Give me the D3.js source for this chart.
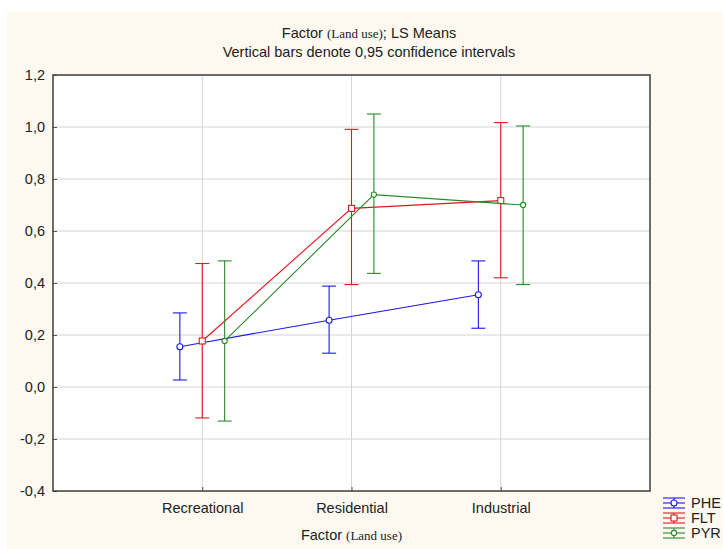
<!DOCTYPE html>
<html><head><meta charset="utf-8">
<script src="https://cdn.jsdelivr.net/npm/d3@7"></script>
<style>html,body{margin:0;padding:0;background:#fff;}svg{display:block;}</style>
</head><body>
<script>
const categories = ["Recreational", "Residential", "Industrial"];
const seriesNames = ["PHE", "FLT", "PYR"];
const pheMean = [0.155, 0.257, 0.355];
const pheLow  = [0.027, 0.130, 0.226];
const pheHigh = [0.285, 0.388, 0.485];
const fltMean = [0.177, 0.687, 0.717];
const fltLow  = [-0.119, 0.394, 0.420];
const fltHigh = [0.475, 0.991, 1.017];
const pyrMean = [0.177, 0.740, 0.700];
const pyrLow  = [-0.131, 0.437, 0.394];
const pyrHigh = [0.485, 1.050, 1.004];
const yTicks = [-0.4, -0.2, 0.0, 0.2, 0.4, 0.6, 0.8, 1.0, 1.2];

const W = 723, H = 549;
const L = 53, R = 650, T = 75, B = 491;
const colors = {PHE: "#1a1ae6", FLT: "#e8141e", PYR: "#2a8a2a"};
const offsets = {PHE: -0.15, FLT: 0, PYR: 0.15};

const series = [
  {name: "PHE", mean: pheMean, low: pheLow, high: pheHigh, marker: "circle"},
  {name: "FLT", mean: fltMean, low: fltLow, high: fltHigh, marker: "square"},
  {name: "PYR", mean: pyrMean, low: pyrLow, high: pyrHigh, marker: "dot"}
];

const svg = d3.select("body").append("svg").attr("width", W).attr("height", H);
svg.append("rect").attr("x", 0).attr("y", 0).attr("width", W).attr("height", H).attr("fill", "#ffffff");
svg.append("rect").attr("x", 7).attr("y", 12).attr("width", W - 7).attr("height", H - 12).attr("fill", "#fdf9f1");

const x = d3.scaleLinear().domain([0, 4]).range([L, R]);
const y = d3.scaleLinear().domain([-0.4, 1.2]).range([B, T]);

svg.append("rect").attr("x", L).attr("y", T).attr("width", R - L).attr("height", B - T).attr("fill", "#ffffff");

// grid
const g = svg.append("g");
g.selectAll("line.hg").data(yTicks.slice(1, -1)).enter().append("line")
  .attr("x1", L).attr("x2", R).attr("y1", d => y(d)).attr("y2", d => y(d))
  .attr("stroke", "#d4d4d4").attr("stroke-width", 1);
g.selectAll("line.vg").data([1, 2, 3]).enter().append("line")
  .attr("x1", d => x(d)).attr("x2", d => x(d)).attr("y1", T).attr("y2", B)
  .attr("stroke", "#d4d4d4").attr("stroke-width", 1);

// axes
const fmt = d => d3.format(".1f")(d).replace(".", ",").replace("−", "-");
const yAxis = d3.axisLeft(y).tickValues(yTicks).tickSize(-4).tickFormat(fmt).tickPadding(8);
const ya = svg.append("g").attr("transform", `translate(${L},0)`).call(yAxis);
ya.select(".domain").remove();
ya.selectAll(".tick line").attr("stroke", "#555");
ya.selectAll("text").attr("font-family", "Liberation Sans, Arial, sans-serif").attr("font-size", 14.5).attr("fill", "#222");

const xAxis = d3.axisBottom(x).tickValues([1, 2, 3]).tickSize(-4).tickFormat(d => categories[d - 1]).tickPadding(12);
const xa = svg.append("g").attr("transform", `translate(0,${B})`).call(xAxis);
xa.select(".domain").remove();
xa.selectAll(".tick line").attr("stroke", "#555");
xa.selectAll("text").attr("font-family", "Liberation Sans, Arial, sans-serif").attr("font-size", 14.5).attr("fill", "#222");

// frame
svg.append("rect").attr("x", L).attr("y", T).attr("width", R - L).attr("height", B - T)
  .attr("fill", "none").attr("stroke", "#3c3c3c").attr("stroke-width", 1.5);

// series
const px = (s, i) => x(i + 1 + offsets[s.name]);
const line = d3.line();
function marker(gr, s, cx, cy, c) {
  if (s.marker === "square") {
    gr.append("rect").attr("x", cx - 3).attr("y", cy - 3).attr("width", 6).attr("height", 6)
      .attr("fill", "#fff").attr("stroke", c).attr("stroke-width", 1.1);
  } else {
    gr.append("circle").attr("cx", cx).attr("cy", cy).attr("r", s.marker === "circle" ? 3 : 2.6)
      .attr("fill", "#fff").attr("stroke", c).attr("stroke-width", 1.1);
  }
}
series.forEach(s => {
  const c = colors[s.name];
  const sg = svg.append("g");
  sg.append("path").attr("d", line(s.mean.map((m, i) => [px(s, i), y(m)])))
    .attr("fill", "none").attr("stroke", c).attr("stroke-width", 1.1);
  s.mean.forEach((m, i) => {
    const cx = px(s, i);
    sg.append("line").attr("x1", cx).attr("x2", cx).attr("y1", y(s.low[i])).attr("y2", y(s.high[i]))
      .attr("stroke", c).attr("stroke-width", 1.1);
    [s.low[i], s.high[i]].forEach(v => {
      sg.append("line").attr("x1", cx - 7).attr("x2", cx + 7).attr("y1", y(v)).attr("y2", y(v))
        .attr("stroke", c).attr("stroke-width", 1.1);
    });
    marker(sg, s, cx, y(m), c);
  });
});

// titles
const title = svg.append("text").attr("x", 369).attr("y", 38).attr("text-anchor", "middle")
  .attr("font-family", "Liberation Sans, Arial, sans-serif").attr("font-size", 14.5).attr("fill", "#222");
title.append("tspan").text("Factor ");
title.append("tspan").attr("font-family", "Liberation Serif, Times New Roman, serif").attr("font-size", 13).text("(Land use)");
title.append("tspan").text("; LS Means");
svg.append("text").attr("x", 369).attr("y", 57).attr("text-anchor", "middle")
  .attr("font-family", "Liberation Sans, Arial, sans-serif").attr("font-size", 14.5).attr("fill", "#222")
  .text("Vertical bars denote 0,95 confidence intervals");

const xt = svg.append("text").attr("x", (L + R) / 2).attr("y", 540).attr("text-anchor", "middle")
  .attr("font-family", "Liberation Sans, Arial, sans-serif").attr("font-size", 14.5).attr("fill", "#222");
xt.append("tspan").text("Factor ");
xt.append("tspan").attr("font-family", "Liberation Serif, Times New Roman, serif").attr("font-size", 13).text("(Land use)");

// legend
const lg = svg.append("g");
series.forEach((s, k) => {
  const c = colors[s.name];
  const cy = 503 + k * 15;
  const x0 = 663, x1 = 685, xm = 674;
  [-5, 0, 5].forEach(dy => {
    lg.append("line").attr("x1", x0).attr("x2", x1).attr("y1", cy + dy).attr("y2", cy + dy)
      .attr("stroke", c).attr("stroke-width", 1.1);
  });
  lg.append("line").attr("x1", xm).attr("x2", xm).attr("y1", cy - 5).attr("y2", cy + 5)
    .attr("stroke", c).attr("stroke-width", 1.1);
  marker(lg, s, xm, cy, c);
  lg.append("text").attr("x", 691).attr("y", cy + 5).attr("font-family", "Liberation Sans, Arial, sans-serif")
    .attr("font-size", 14.5).attr("fill", "#222").text(s.name);
});
</script>
</body></html>
